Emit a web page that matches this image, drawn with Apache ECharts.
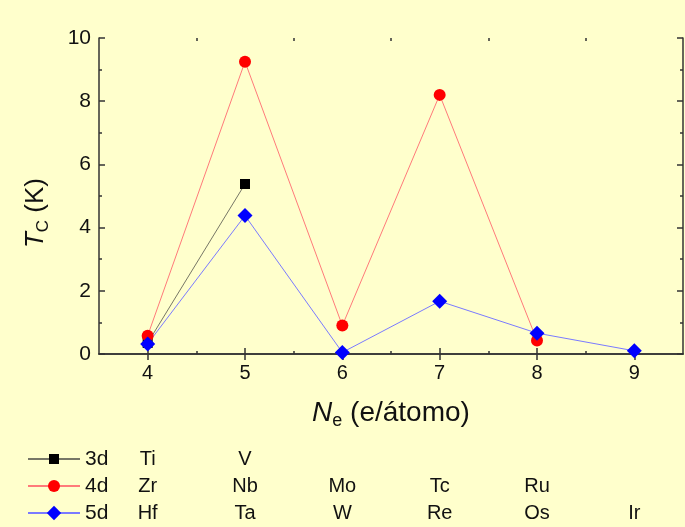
<!DOCTYPE html>
<html>
<head>
<meta charset="utf-8">
<script src="https://cdn.jsdelivr.net/npm/echarts@6/dist/echarts.min.js"></script>
<style>
html,body{margin:0;padding:0;background:#ffffcc;}
#main{width:685px;height:527px;}
</style>
</head>
<body>
<div id="main"></div>
<script>
// ---- data ----
const seriesNames = ['3d', '4d', '5d'];
const ne3d = [4, 5];
const tc3d = [0.35, 5.38];
const ne4d = [4, 5, 6, 7, 8];
const tc4d = [0.58, 9.25, 0.9, 8.2, 0.43];
const ne5d = [4, 5, 6, 7, 8, 9];
const tc5d = [0.32, 4.38, 0.05, 1.67, 0.66, 0.1];
const elements3d = ['Ti', 'V'];
const elements4d = ['Zr', 'Nb', 'Mo', 'Tc', 'Ru'];
const elements5d = ['Hf', 'Ta', 'W', 'Re', 'Os', 'Ir'];
const xMajorTicks = [4, 5, 6, 7, 8, 9];
const xMinorTicks = [4.5, 5.5, 6.5, 7.5, 8.5];

const pairs = (xs, ys) => xs.map((x, i) => [x, ys[i]]);
const FONT = '"Liberation Sans", Arial, sans-serif';
const INK = '#111';
const axisLine = {show: true, lineStyle: {color: '#333', width: 1.5}};
const tickStyle = {color: '#333', width: 1.5};

const rowY = [459, 486, 513];
const legendIconH = [12.5, 15, 18];

const chart = echarts.init(document.getElementById('main'));
const baseX = {
  type: 'value', min: 3.5, max: 9.5, gridIndex: 0,
  splitLine: {show: false}, axisLine: axisLine
};
chart.setOption({
  backgroundColor: '#ffffcc',
  animation: false,
  textStyle: {fontFamily: FONT},
  grid: {left: 99, right: 2, top: 38, bottom: 173, containLabel: false},
  xAxis: [
    Object.assign({}, baseX, {
      position: 'bottom',
      axisTick: {show: true, inside: true, length: 6, customValues: xMajorTicks, lineStyle: tickStyle},
      axisLabel: {show: true, customValues: xMajorTicks, fontSize: 20, color: INK, margin: 9, fontFamily: FONT},
      name: '{i|N}{s|e}{n| (e/átomo)}',
      nameLocation: 'middle', nameGap: 43,
      nameTextStyle: {
        rich: {
          i: {fontSize: 28, fontStyle: 'italic', fontFamily: FONT, color: INK, lineHeight: 32},
          s: {fontSize: 18, fontFamily: FONT, color: INK, lineHeight: 32, padding: [16, 0, 0, 0]},
          n: {fontSize: 28, fontFamily: FONT, color: INK, lineHeight: 32}
        }
      }
    }),
    Object.assign({}, baseX, {
      position: 'top',
      axisTick: {show: true, inside: true, length: 6, customValues: xMajorTicks, lineStyle: tickStyle},
      axisLabel: {show: false}
    }),
    Object.assign({}, baseX, {
      position: 'bottom', axisLine: {show: false},
      axisTick: {show: true, inside: true, length: 3, customValues: xMinorTicks, lineStyle: tickStyle},
      axisLabel: {show: false}
    }),
    Object.assign({}, baseX, {
      position: 'top', axisLine: {show: false},
      axisTick: {show: true, inside: true, length: 3, customValues: xMinorTicks, lineStyle: tickStyle},
      axisLabel: {show: false}
    })
  ],
  yAxis: [
    {
      type: 'value', min: 0, max: 10, interval: 2, position: 'left',
      splitLine: {show: false}, axisLine: axisLine,
      axisTick: {show: true, inside: true, length: 6, lineStyle: tickStyle},
      minorTick: {show: true, splitNumber: 2, length: 3, lineStyle: tickStyle},
      axisLabel: {fontSize: 21, color: INK, margin: 8, fontFamily: FONT}
    },
    {
      type: 'value', min: 0, max: 10, interval: 2, position: 'right',
      splitLine: {show: false}, axisLine: axisLine,
      axisTick: {show: true, inside: true, length: 6, lineStyle: tickStyle},
      minorTick: {show: true, splitNumber: 2, length: 3, lineStyle: tickStyle},
      axisLabel: {show: false}
    }
  ],
  legend: seriesNames.map((n, i) => ({
    orient: 'vertical', left: 27, top: rowY[i] - 11, padding: 0,
    itemWidth: 52, itemHeight: legendIconH[i], itemGap: 0,
    textStyle: {fontSize: 21, color: INK, fontFamily: FONT, lineHeight: 22},
    data: [n]
  })),
  series: [
    {
      name: seriesNames[0], type: 'line', data: pairs(ne3d, tc3d),
      symbol: 'rect', symbolSize: 10,
      itemStyle: {color: '#000'},
      lineStyle: {color: '#777766', width: 1}
    },
    {
      name: seriesNames[1], type: 'line', data: pairs(ne4d, tc4d),
      symbol: 'circle', symbolSize: 12,
      itemStyle: {color: '#ff0000'},
      lineStyle: {color: '#ff7a7a', width: 1}
    },
    {
      name: seriesNames[2], type: 'line', data: pairs(ne5d, tc5d),
      symbol: 'diamond', symbolSize: 15,
      itemStyle: {color: '#0000ff'},
      lineStyle: {color: '#7a7aff', width: 1}
    }
  ]
});

// element names centred under their N_e column, one row per series
const rows = [elements3d, elements4d, elements5d];
const graphics = [];
rows.forEach((els, r) => {
  els.forEach((el, i) => {
    const px = chart.convertToPixel({xAxisIndex: 0}, xMajorTicks[i]);
    graphics.push({
      type: 'text', x: px, y: rowY[r],
      style: {text: el, fill: INK, font: '20px ' + FONT, align: 'center', verticalAlign: 'middle'}
    });
  });
});
// y-axis title (rotated), T_C (K)
graphics.push({
  type: 'text', x: 36, y: 213, rotation: Math.PI / 2,
  style: {
    text: '{i|T}{s|C}{n| (K)}', align: 'center', verticalAlign: 'middle',
    rich: {
      i: {fontSize: 26, fontStyle: 'italic', fontFamily: FONT, fill: INK, lineHeight: 30},
      s: {fontSize: 17, fontFamily: FONT, fill: INK, lineHeight: 30, padding: [15, 0, 0, 0]},
      n: {fontSize: 26, fontFamily: FONT, fill: INK, lineHeight: 30}
    }
  }
});
chart.setOption({graphic: graphics});
</script>
</body>
</html>
